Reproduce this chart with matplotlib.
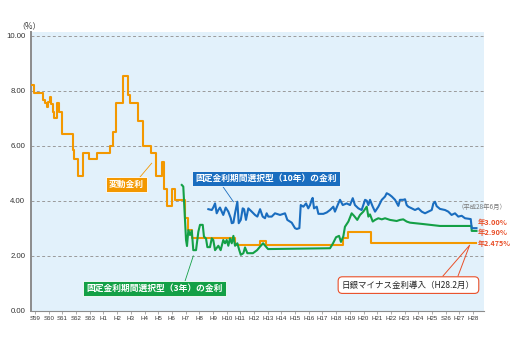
import matplotlib
matplotlib.use("Agg")
import matplotlib.pyplot as plt

plt.rcParams["font.family"] = ["Noto Sans CJK JP", "DejaVu Sans"]

# 和暦の目盛（S59=1984 ～ H28=2016）
TICK_YEARS = list(range(1984, 2017))
TICK_LABELS = ["S59", "S60", "S61", "S62", "S63"] + [f"H{i}" for i in range(1, 26)] + ["S26", "H27", "H28"]

# 変動金利（改定時点, 金利）
var_x = [1983.76, 1983.93, 1984.56, 1984.73, 1984.85, 1984.97, 1985.10, 1985.15, 1985.29, 1985.39,
         1985.63, 1985.73, 1985.95, 1986.75, 1986.85, 1987.12, 1987.53, 1987.97, 1988.51, 1989.48,
         1989.72, 1989.92, 1990.41, 1990.82, 1990.94, 1991.49, 1991.89, 1992.47, 1992.84, 1993.24,
         1993.44, 1993.62, 1993.99, 1994.23, 1994.92, 1995.20, 1995.45, 1998.61, 2000.44, 2000.87,
         2006.50, 2006.89, 2008.54, 2016.21]
var_y = [8.22, 7.92, 7.66, 7.56, 7.42, 7.60, 7.76, 7.50, 7.24, 7.02,
         7.54, 7.24, 6.43, 5.84, 5.50, 4.91, 5.72, 5.53, 5.72, 5.99,
         6.50, 7.54, 8.53, 7.84, 7.54, 6.90, 6.00, 5.72, 4.91, 5.42,
         4.41, 3.81, 4.41, 4.03, 3.38, 2.93, 2.625, 2.375, 2.55, 2.375,
         2.625, 2.875, 2.475, 2.475]

# 固定金利期間選択型（3年）
fix3_x = [1994.72, 1994.83, 1995.03, 1995.10, 1995.20, 1995.32, 1995.45, 1995.56, 1995.76, 1995.93,
          1996.05, 1996.25, 1996.34, 1996.49, 1996.59, 1996.78, 1996.91, 1997.02, 1997.15, 1997.39,
          1997.56, 1997.75, 1997.88, 1998.00, 1998.12, 1998.24, 1998.37, 1998.49, 1998.61, 1998.78,
          1998.92, 1999.03, 1999.22, 1999.34, 1999.51, 1999.92, 2000.22, 2000.44, 2000.66, 2001.02,
          2005.55, 2005.77, 2005.99, 2006.21, 2006.35, 2006.52, 2006.64, 2006.89, 2007.13, 2007.30,
          2007.54, 2007.74, 2007.98, 2008.23, 2008.35, 2008.47, 2008.67, 2008.84, 2009.08, 2009.33,
          2009.57, 2009.93, 2010.42, 2010.66, 2010.90, 2011.15, 2011.39, 2012.34, 2013.58, 2015.88,
          2015.90, 2016.25]
fix3_y = [4.57, 4.51, 2.57, 2.35, 2.93, 2.75, 2.91, 2.20, 2.20, 2.87,
          3.12, 3.12, 2.69, 2.62, 2.31, 2.31, 2.63, 2.57, 2.20, 2.36,
          2.20, 2.57, 2.45, 2.57, 2.36, 2.63, 2.45, 2.72, 2.36, 2.45,
          2.20, 2.03, 2.09, 2.30, 2.09, 2.09, 2.20, 2.33, 2.45, 2.24,
          2.27, 2.45, 2.67, 2.72, 2.50, 2.70, 3.05, 3.24, 3.54, 3.45,
          3.30, 3.48, 3.60, 3.78, 3.42, 3.50, 3.24, 3.30, 3.36, 3.32,
          3.36, 3.30, 3.26, 3.30, 3.32, 3.24, 3.20, 3.15, 3.08, 3.08,
          2.90, 2.90]

# 固定金利期間選択型（10年）
fix10_x = [1996.66, 1996.91, 1997.02, 1997.15, 1997.27, 1997.39, 1997.51, 1997.64, 1997.75, 1997.93,
           1998.12, 1998.30, 1998.37, 1998.49, 1998.61, 1998.78, 1998.88, 1999.03, 1999.17, 1999.27,
           1999.41, 1999.58, 1999.83, 2000.07, 2000.24, 2000.44, 2000.63, 2000.80, 2000.92, 2001.04,
           2001.29, 2001.53, 2001.90, 2002.26, 2002.43, 2002.75, 2002.99, 2003.12, 2003.31, 2003.41,
           2003.60, 2003.80, 2003.96, 2004.09, 2004.21, 2004.28, 2004.38, 2004.58, 2004.70, 2005.06,
           2005.31, 2005.55, 2005.79, 2005.91, 2006.16, 2006.28, 2006.48, 2006.77, 2007.01, 2007.21,
           2007.37, 2007.62, 2007.86, 2008.11, 2008.23, 2008.35, 2008.47, 2008.67, 2008.84, 2009.08,
           2009.33, 2009.57, 2009.69, 2009.88, 2010.06, 2010.30, 2010.54, 2010.66, 2010.90, 2011.03,
           2011.15, 2011.27, 2011.52, 2011.76, 2012.00, 2012.25, 2012.49, 2012.73, 2012.98, 2013.10,
           2013.22, 2013.34, 2013.58, 2013.95, 2014.19, 2014.43, 2014.68, 2014.92, 2015.17, 2015.41,
           2015.83, 2015.90, 2016.25]
fix10_y = [3.69, 3.66, 3.75, 3.90, 3.54, 3.66, 3.75, 3.60, 3.48, 3.75,
           3.60, 3.36, 3.18, 3.20, 3.54, 3.96, 3.18, 3.30, 3.72, 3.69,
           3.30, 3.72, 3.60, 3.48, 3.42, 3.69, 3.42, 3.36, 3.54, 3.42,
           3.42, 3.54, 3.48, 3.54, 3.30, 3.20, 3.00, 2.97, 3.00, 3.84,
           3.78, 3.90, 3.72, 3.84, 4.03, 4.10, 3.72, 3.78, 3.52, 3.52,
           3.57, 3.66, 3.78, 3.60, 3.90, 4.03, 3.84, 3.90, 3.84, 4.09,
           3.84, 3.72, 3.66, 4.03, 4.00, 3.84, 4.03, 3.78, 3.60, 3.78,
           4.03, 4.15, 4.27, 4.22, 4.15, 4.03, 3.81, 4.03, 4.03, 4.05,
           3.84, 3.78, 3.72, 3.66, 3.72, 3.60, 3.54, 3.60, 3.66, 3.90,
           3.96, 3.80, 3.70, 3.66, 3.60, 3.48, 3.54, 3.42, 3.45, 3.36,
           3.33, 3.00, 3.00]

ORANGE = "#f39800"
BLUE = "#1a6dbf"
GREEN = "#14a046"
RED = "#e9502a"

fig = plt.figure(figsize=(5.13, 3.43), dpi=100)
ax = fig.add_axes([0.0614, 0.0942, 0.8821, 0.8125])
ax.set_facecolor("#e2f1fb")
ax.set_xlim(1983.74, 2016.80)
ax.set_ylim(0, 10.13)

for v in range(2, 11, 2):
    ax.axhline(v, color="#9a9a9a", lw=0.7, ls=(0, (3, 2.5)), zorder=1)

ax.plot(var_x, var_y, color=ORANGE, lw=1.5, drawstyle="steps-post", zorder=3)
ax.plot(fix3_x, fix3_y, color=GREEN, lw=1.5, zorder=4)
ax.plot(fix10_x, fix10_y, color=BLUE, lw=1.5, zorder=5)

for side in ("top", "right"):
    ax.spines[side].set_visible(False)
ax.spines["left"].set_color("#8c8c8c")
ax.spines["left"].set_linewidth(1.4)
ax.spines["bottom"].set_color("#8c8c8c")
ax.spines["bottom"].set_linewidth(0.8)

tick_font = ["Liberation Sans", "DejaVu Sans"]
ax.set_yticks(range(0, 11, 2))
ax.set_yticklabels([f"{v:.2f}" for v in range(0, 11, 2)], family=tick_font, fontsize=5.6, color="#333333")
ax.tick_params(axis="y", length=0, pad=4.5)
ax.set_xticks(TICK_YEARS)
ax.set_xticklabels(TICK_LABELS, family=tick_font, fontsize=4.4, color="#333333")
ax.tick_params(axis="x", length=2, width=0.5, color="#8c8c8c", pad=1.5)

ax.text(1983.6, 10.35, "（%）", fontsize=5.8, ha="center", va="center", color="#333333", clip_on=False)

# 系列名のラベル
def label_box(x, y, text, color, leader):
    ax.text(x, y, text, fontsize=6.3, color="white", weight="bold", ha="center", va="center", zorder=7,
            bbox=dict(boxstyle="square,pad=0.38", fc=color, ec="white", lw=0.6))
    ax.plot(leader[0], leader[1], color=color, lw=0.6, zorder=6)

label_box(1990.68, 4.59, "変動金利", ORANGE, ([1991.67, 1992.52], [4.86, 5.36]))
label_box(2000.87, 4.81, "固定金利期間選択型（10年）の金利", BLUE, ([1997.64, 1998.49], [4.57, 3.96]))
label_box(1992.73, 0.81, "固定金利期間選択型（3年）の金利", GREEN, ([1994.96, 1995.56], [1.08, 1.99]))

# マイナス金利導入の吹き出し
ax.text(2011.28, 0.93, "日銀マイナス金利導入（H28.2月）", fontsize=6.1, color="#222222",
        ha="center", va="center", zorder=7,
        bbox=dict(boxstyle="round,pad=0.45,rounding_size=0.5", fc="white", ec=RED, lw=0.8))
ax.plot([2013.80, 2015.75, 2014.90], [1.26, 2.38, 1.26], color=RED, lw=0.7, zorder=6)

# 右端の金利
ax.text(2018.46, 3.78, "（平成28年6月）", fontsize=4.6, color="#777777", ha="right", va="center", clip_on=False)
ax.text(2016.36, 3.20, "年3.00%", fontsize=5.3, weight="bold", color=RED, ha="left", va="center", clip_on=False)
ax.text(2016.36, 2.84, "年2.90%", fontsize=5.3, weight="bold", color=RED, ha="left", va="center", clip_on=False)
ax.text(2016.36, 2.45, "年2.475%", fontsize=5.1, weight="bold", color=RED, ha="left", va="center", clip_on=False)

fig.savefig("out.png", dpi=100)
